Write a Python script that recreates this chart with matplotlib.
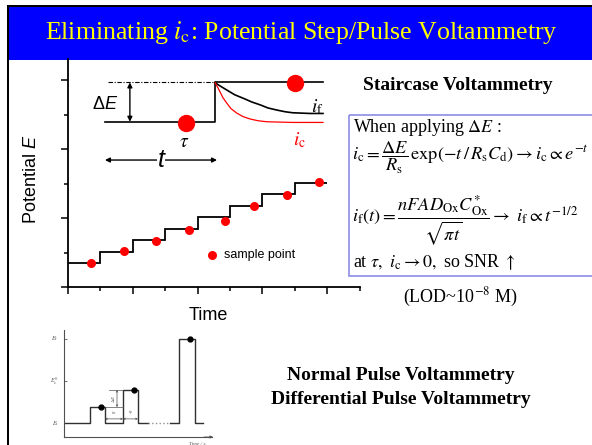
import matplotlib
matplotlib.use('Agg')
import matplotlib.pyplot as plt
from matplotlib.patches import Rectangle

plt.rcParams['font.family'] = ['Liberation Sans', 'DejaVu Sans']
plt.rcParams['mathtext.fontset'] = 'stix'
plt.rcParams['mathtext.rm'] = 'Liberation Sans'
plt.rcParams['mathtext.it'] = 'Liberation Sans:italic'
plt.rcParams['mathtext.bf'] = 'Liberation Sans:bold'
plt.rcParams['mathtext.sf'] = 'Liberation Sans'

# ---------------- data: staircase ----------------
step_edges = [0, 1, 2, 3, 4, 5, 6, 7, 8]
step_levels = [0.70, 1.01, 1.36, 1.68, 2.03, 2.35, 2.70, 3.01]
sample_t = [0.70, 1.73, 2.71, 3.73, 4.85, 5.75, 6.76, 7.74]
sample_E = [0.70, 1.04, 1.33, 1.65, 1.91, 2.35, 2.67, 3.03]
legend_t = [4.44]
legend_E = [0.93]

# ---------------- data: step schematic ----------------
step_t = [1.14, 4.54, 4.54, 7.87]
step_E = [4.79, 4.79, 5.93, 5.93]
prev_t = [1.23, 4.54]
prev_E = [5.93, 5.93]
if_t = [4.54, 4.69, 4.90, 5.15, 5.41, 5.68, 5.93, 6.17, 6.44, 6.70, 6.94, 7.47, 7.87]
if_E = [5.92, 5.83, 5.71, 5.57, 5.47, 5.36, 5.28, 5.19, 5.13, 5.08, 5.05, 5.03, 5.03]
ic_t = [4.54, 4.63, 4.69, 4.78, 4.90, 5.03, 5.21, 5.40, 5.62, 5.86, 6.13, 6.94, 7.87]
ic_E = [5.92, 5.77, 5.66, 5.49, 5.33, 5.17, 5.04, 4.94, 4.87, 4.82, 4.79, 4.77, 4.77]
big_dot_t = [3.64, 7.01]
big_dot_E = [4.75, 5.91]

# ---------------- data: pulse inset ----------------
wave1_t = [0, 2.6, 2.6, 4.1, 4.1, 5.9, 5.9, 7.4, 7.4, 8.4]
wave1_E = [0, 0, 0.38, 0.38, 0, 0, 0.79, 0.79, 0, 0]
gap_t = [8.4, 10.6]
gap_E = [0, 0]
wave2_t = [10.6, 11.5, 11.5, 13.1, 13.1, 13.9]
wave2_E = [0, 0, 2.0, 2.0, 0, 0]
pulse_dot_t = [3.7, 7.0, 12.6]
pulse_dot_E = [0.38, 0.79, 2.0]
pulse_levels = [0.0, 1.0, 2.0]
pulse_level_labels = [r'$E_\mathrm{i}$', r'$E_\mathrm{c}^{\,0}$', r'$E_\mathrm{f}$']

W, H = 592, 445
fig = plt.figure(figsize=(W / 100, H / 100), dpi=100)
fig.patch.set_facecolor('white')

# background / slide decoration in pixel coordinates
bg = fig.add_axes([0, 0, 1, 1], zorder=0)
bg.set_xlim(0, W)
bg.set_ylim(H, 0)
bg.axis('off')
bg.add_patch(Rectangle((9, 7), W - 9, 53, facecolor='#0000FF', edgecolor='none'))
bg.add_patch(Rectangle((7, 5), W - 7, 2.2, facecolor='black', edgecolor='none'))
bg.add_patch(Rectangle((7, 5), 2.2, H - 5, facecolor='black', edgecolor='none'))
bg.text(301, 33, r"Eliminating $i_\mathrm{c}$: Potential Step/Pulse Voltammetry",
        color='#FFFF00', family='Liberation Serif', size=18.6, ha='center', va='center')

serif = 'Liberation Serif'
bg.text(458, 85, "Staircase Voltammetry", family=serif, weight='bold', size=14,
        ha='center', va='center')
bg.add_patch(Rectangle((349, 115), 260, 161, facecolor='none', edgecolor='#8c8ce6', lw=1.2))
bg.text(353, 127, r"When applying $\Delta E$ :", family=serif, size=13, va='center')
bg.text(352, 158, r"$i_\mathrm{c} = \dfrac{\Delta E}{R_\mathrm{s}}\,\exp(-t\,/\,R_\mathrm{s}C_\mathrm{d}) \rightarrow i_\mathrm{c} \propto e^{-t}$",
        family=serif, size=13.2, va='center')
bg.text(352, 220, r"$i_\mathrm{f}(t) = \dfrac{nFAD_\mathrm{Ox}C^{*}_\mathrm{Ox}}{\sqrt{\pi t}} \rightarrow\ i_\mathrm{f} \propto t^{-1/2}$",
        family=serif, size=13.2, va='center')
bg.text(353, 262, r"at $\tau,\ i_\mathrm{c} \rightarrow 0,$ so SNR $\uparrow$", family=serif,
        size=13, va='center')
bg.text(460, 297, r"(LOD~10$^{-8}$ M)", family=serif, size=13, ha='center', va='center')

bg.text(401, 376, "Normal Pulse Voltammetry", family=serif, weight='bold', size=14,
        ha='center', va='center')
bg.text(401, 400, "Differential Pulse Voltammetry", family=serif, weight='bold', size=14,
        ha='center', va='center')

bg.text(31, 179, r"Potential $E$", size=13, rotation=90, ha='center', va='center',
        math_fontfamily='custom')
bg.text(208, 315, "Time", size=13, ha='center', va='center')

# ---------------- staircase axes ----------------
ax = fig.add_axes([68 / W, (H - 287) / H, 291.6 / W, (287 - 59) / H], zorder=2)
ax.patch.set_alpha(0)
ax.set_xlim(0, 9)
ax.set_ylim(0, (287 - 59) / 34.5)
for s in ['top', 'right']:
    ax.spines[s].set_visible(False)
for s in ['left', 'bottom']:
    ax.spines[s].set_linewidth(1.3)
ax.set_xticks([0, 2, 4, 6, 8])
ax.set_xticks([1, 3, 5, 7, 9], minor=True)
ax.set_yticks([0, 2, 4, 6])
ax.set_yticks([1, 3, 5], minor=True)
ax.tick_params(which='major', direction='out', length=5, width=1.1, labelbottom=False, labelleft=False)
ax.tick_params(which='minor', direction='out', length=3, width=1.1)

ax.stairs(step_levels, step_edges, baseline=None, color='black', lw=1.3)
ax.plot(sample_t, sample_E, 'o', color='#ff0000', ms=6.5, mec='none', zorder=3)
ax.plot(legend_t, legend_E, 'o', color='#ff0000', ms=6.5, mec='none')
ax.text(4.81, 0.93, "sample point", size=9, va='center')

ax.plot(step_t, step_E, color='black', lw=1.2)
ax.plot(prev_t, prev_E, color='black', lw=0.8, ls=(0, (4, 1.5, 1, 1.5)))
ax.plot(if_t, if_E, color='black', lw=1.2)
ax.plot(ic_t, ic_E, color='#ff0000', lw=0.9)
ax.plot(big_dot_t, big_dot_E, 'o', color='#ff0000', ms=12.5, mec='none', zorder=3)
ax.annotate('', xy=(1.91, 4.79), xytext=(1.91, 5.93),
            arrowprops=dict(arrowstyle='<|-|>', color='black', lw=1.0,
                            mutation_scale=7, shrinkA=0, shrinkB=0))
ax.text(1.14, 5.28, r"$\Delta E$", size=13, ha='center', va='center', math_fontfamily='custom')
ax.text(3.58, 4.20, r"$\tau$", size=14, ha='center', va='center')
ax.text(7.69, 5.22, r"$i_\mathrm{f}$", size=14, ha='center', va='center')
ax.text(7.16, 4.27, r"$i_\mathrm{c}$", size=14, ha='center', va='center', color='#ff0000')
ax.annotate('', xy=(1.14, 3.68), xytext=(4.60, 3.68),
            arrowprops=dict(arrowstyle='<|-|>', color='black', lw=1.0,
                            mutation_scale=7, shrinkA=0, shrinkB=0))
ax.text(2.87, 3.68, "t", size=18, style='italic', ha='center', va='center',
        bbox=dict(facecolor='white', edgecolor='none', pad=0.5))

# ---------------- pulse inset ----------------
grey = '#505050'
ax2 = fig.add_axes([64 / W, (H - 437) / H, 148 / W, 107 / H], zorder=2)
ax2.patch.set_alpha(0)
ax2.set_xlim(0, 14.8)
ax2.set_ylim(-0.33, 2.21)
for s in ['top', 'right']:
    ax2.spines[s].set_visible(False)
for s in ['left', 'bottom']:
    ax2.spines[s].set_linewidth(0.8)
    ax2.spines[s].set_color(grey)
ax2.set_xticks([])
ax2.set_yticks(pulse_levels)
ax2.tick_params(axis='y', direction='in', length=2, width=0.6, color=grey, labelleft=False)
for lv, lb in zip(pulse_levels, pulse_level_labels):
    ax2.text(-0.9, lv, lb, size=4.5, color=grey, ha='center', va='center', clip_on=False)
ax2.plot(wave1_t, wave1_E, color='#303030', lw=1.0)
ax2.plot(gap_t, gap_E, color='#909090', lw=1.0, ls=':')
ax2.plot(wave2_t, wave2_E, color='#303030', lw=1.0)
ax2.plot(pulse_dot_t, pulse_dot_E, 'o', color='black', ms=3.5)
ax2.plot([4.5, 5.9], [0.79, 0.79], color=grey, lw=0.5)
ax2.plot([4.1, 5.9], [0.38, 0.38], color=grey, lw=0.5)
ax2.annotate('', xy=(5.3, 0.38), xytext=(5.3, 0.79),
             arrowprops=dict(arrowstyle='<->', color=grey, lw=0.5, mutation_scale=3,
                             shrinkA=0, shrinkB=0))
ax2.text(4.95, 0.58, r"$\Delta E$", size=3.5, color=grey, rotation=90, ha='center', va='center')
ax2.annotate('', xy=(4.1, 0.1), xytext=(5.9, 0.1),
             arrowprops=dict(arrowstyle='<->', color=grey, lw=0.5, mutation_scale=3,
                             shrinkA=0, shrinkB=0))
ax2.annotate('', xy=(5.9, 0.1), xytext=(7.4, 0.1),
             arrowprops=dict(arrowstyle='<->', color=grey, lw=0.5, mutation_scale=3,
                             shrinkA=0, shrinkB=0))
ax2.text(5.0, 0.24, r"$t_\mathrm{w}$", size=3.5, color=grey, ha='center', va='center')
ax2.text(6.6, 0.24, r"$t_\mathrm{p}$", size=3.5, color=grey, ha='center', va='center')
ax2.annotate('', xy=(14.9, -0.33), xytext=(14.0, -0.33),
             arrowprops=dict(arrowstyle='-|>', color=grey, lw=0.6, mutation_scale=4,
                             shrinkA=0, shrinkB=0), annotation_clip=False)
ax2.text(13.3, -0.5, "Time / s", size=3.8, color=grey, family=serif, style='italic',
         ha='center', va='center', clip_on=False)

fig.savefig('out.png', dpi=100)
